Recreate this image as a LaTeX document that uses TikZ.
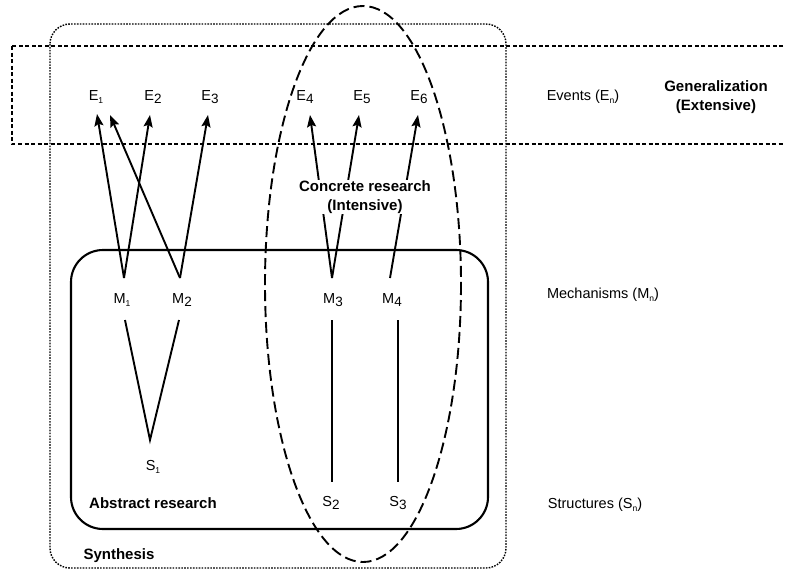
\documentclass[tikz,border=0pt]{standalone}
\usepackage{fontspec}
\setmainfont{Liberation Sans}
\usetikzlibrary{arrows.meta,shapes.geometric}
\newcommand{\ssb}[1]{\raisebox{-2.5pt}{\fontsize{8.5}{8.5}\selectfont #1}}
\newcommand{\bsb}[1]{\raisebox{-3pt}{\fontsize{13.5}{13.5}\selectfont #1}}
\begin{document}
\begin{tikzpicture}[x=1pt,y=-1pt,
  lbl/.style={font=\fontsize{14.5}{16}\selectfont, inner sep=0pt},
  boldlbl/.style={font=\fontsize{15}{19}\selectfont\bfseries, align=center, inner sep=1pt},
  arr/.style={line width=1.9pt, -{Stealth[length=12pt,width=9pt,inset=2pt]}},
  link/.style={line width=1.9pt},
  genbox/.style={line width=2.2pt, dash pattern=on 4pt off 2.5pt},
  synbox/.style={line width=1.4pt, dash pattern=on 1.6pt off 1.3pt, rounded corners=20pt},
  absbox/.style={line width=2.1pt, rounded corners=32pt},
  concell/.style={line width=1.9pt, dash pattern=on 11pt off 5pt}]
\useasboundingbox (0,0) rectangle (785,571);
\clip (0,0) rectangle (785,571);

% frames
\draw[genbox] (12,46) rectangle (800,144);
\draw[synbox] (50,24) rectangle (506,568);
\draw[absbox] (71,250) rectangle (488,529);
\draw[concell] (363,284) ellipse [x radius=98, y radius=278];

% events
\node[lbl] (E1) at (96,97) {E\ssb{1}};
\node[lbl] (E2) at (153,97) {E\bsb{2}};
\node[lbl] (E3) at (210,97) {E\bsb{3}};
\node[lbl] (E4) at (305,97) {E\bsb{4}};
\node[lbl] (E5) at (362,97) {E\bsb{5}};
\node[lbl] (E6) at (419,97) {E\bsb{6}};

% mechanisms
\node[lbl] (M1) at (122,300) {M\ssb{1}};
\node[lbl] (M2) at (182,300) {M\bsb{2}};
\node[lbl] (M3) at (333,300) {M\bsb{3}};
\node[lbl] (M4) at (392,300) {M\bsb{4}};

% structures
\node[lbl] (S1) at (153,467) {S\ssb{1}};
\node[lbl] (S2) at (331,503) {S\bsb{2}};
\node[lbl] (S3) at (398,503) {S\bsb{3}};

% anchor points
\coordinate (E1a) at ([shift={(1,17)}]E1.center);
\coordinate (E1b) at ([shift={(14,18)}]E1.center);
\coordinate (E2a) at ([shift={(-3,18)}]E2.center);
\coordinate (E3a) at ([shift={(-2,18)}]E3.center);
\coordinate (E4a) at ([shift={(5,18)}]E4.center);
\coordinate (E5a) at ([shift={(-3,18)}]E5.center);
\coordinate (E6a) at ([shift={(-1,18)}]E6.center);

\coordinate (M1t) at ([shift={(2,-22)}]M1.center);
\coordinate (M2t) at ([shift={(-2,-22)}]M2.center);
\coordinate (M3t) at ([shift={(-1,-22)}]M3.center);
\coordinate (M4t) at ([shift={(-2,-22)}]M4.center);
\coordinate (M1b) at ([shift={(3,20)}]M1.center);
\coordinate (M2b) at ([shift={(-3,20)}]M2.center);
\coordinate (M3b) at ([shift={(-1,20)}]M3.center);
\coordinate (M4b) at ([shift={(6,20)}]M4.center);

\coordinate (S1t) at ([shift={(-3,-27)}]S1.center);
\coordinate (S2t) at ([shift={(1,-21)}]S2.center);
\coordinate (S3t) at ([shift={(0,-21)}]S3.center);

% arrows
\draw[arr] (M1t) -- (E1a);
\draw[arr] (M1t) -- (E2a);
\draw[arr] (M2t) -- (E1b);
\draw[arr] (M2t) -- (E3a);
\draw[arr] (M3t) -- (E4a);
\draw[arr] (M3t) -- (E5a);
\draw[arr] (M4t) -- (E6a);

% links
\draw[link] (M1b) -- (S1t) -- (M2b);
\draw[link] (M3b) -- (S2t);
\draw[link] (M4b) -- (S3t);

% labels
\node[boldlbl, fill=white] (conc) at (365,197) {Concrete research\\(Intensive)};
\node[lbl] (ev) at (583,97) {Events (E\ssb{n})};
\node[lbl] (mech) at (603,295) {Mechanisms (M\ssb{n})};
\node[lbl] (struc) at (595,505) {Structures (S\ssb{n})};
\node[boldlbl] (gen) at (716,97) {Generalization\\(Extensive)};
\node[boldlbl] (absr) at (153,503) {Abstract research};
\node[boldlbl] (syn) at (119,556) {Synthesis};
\end{tikzpicture}
\end{document}
